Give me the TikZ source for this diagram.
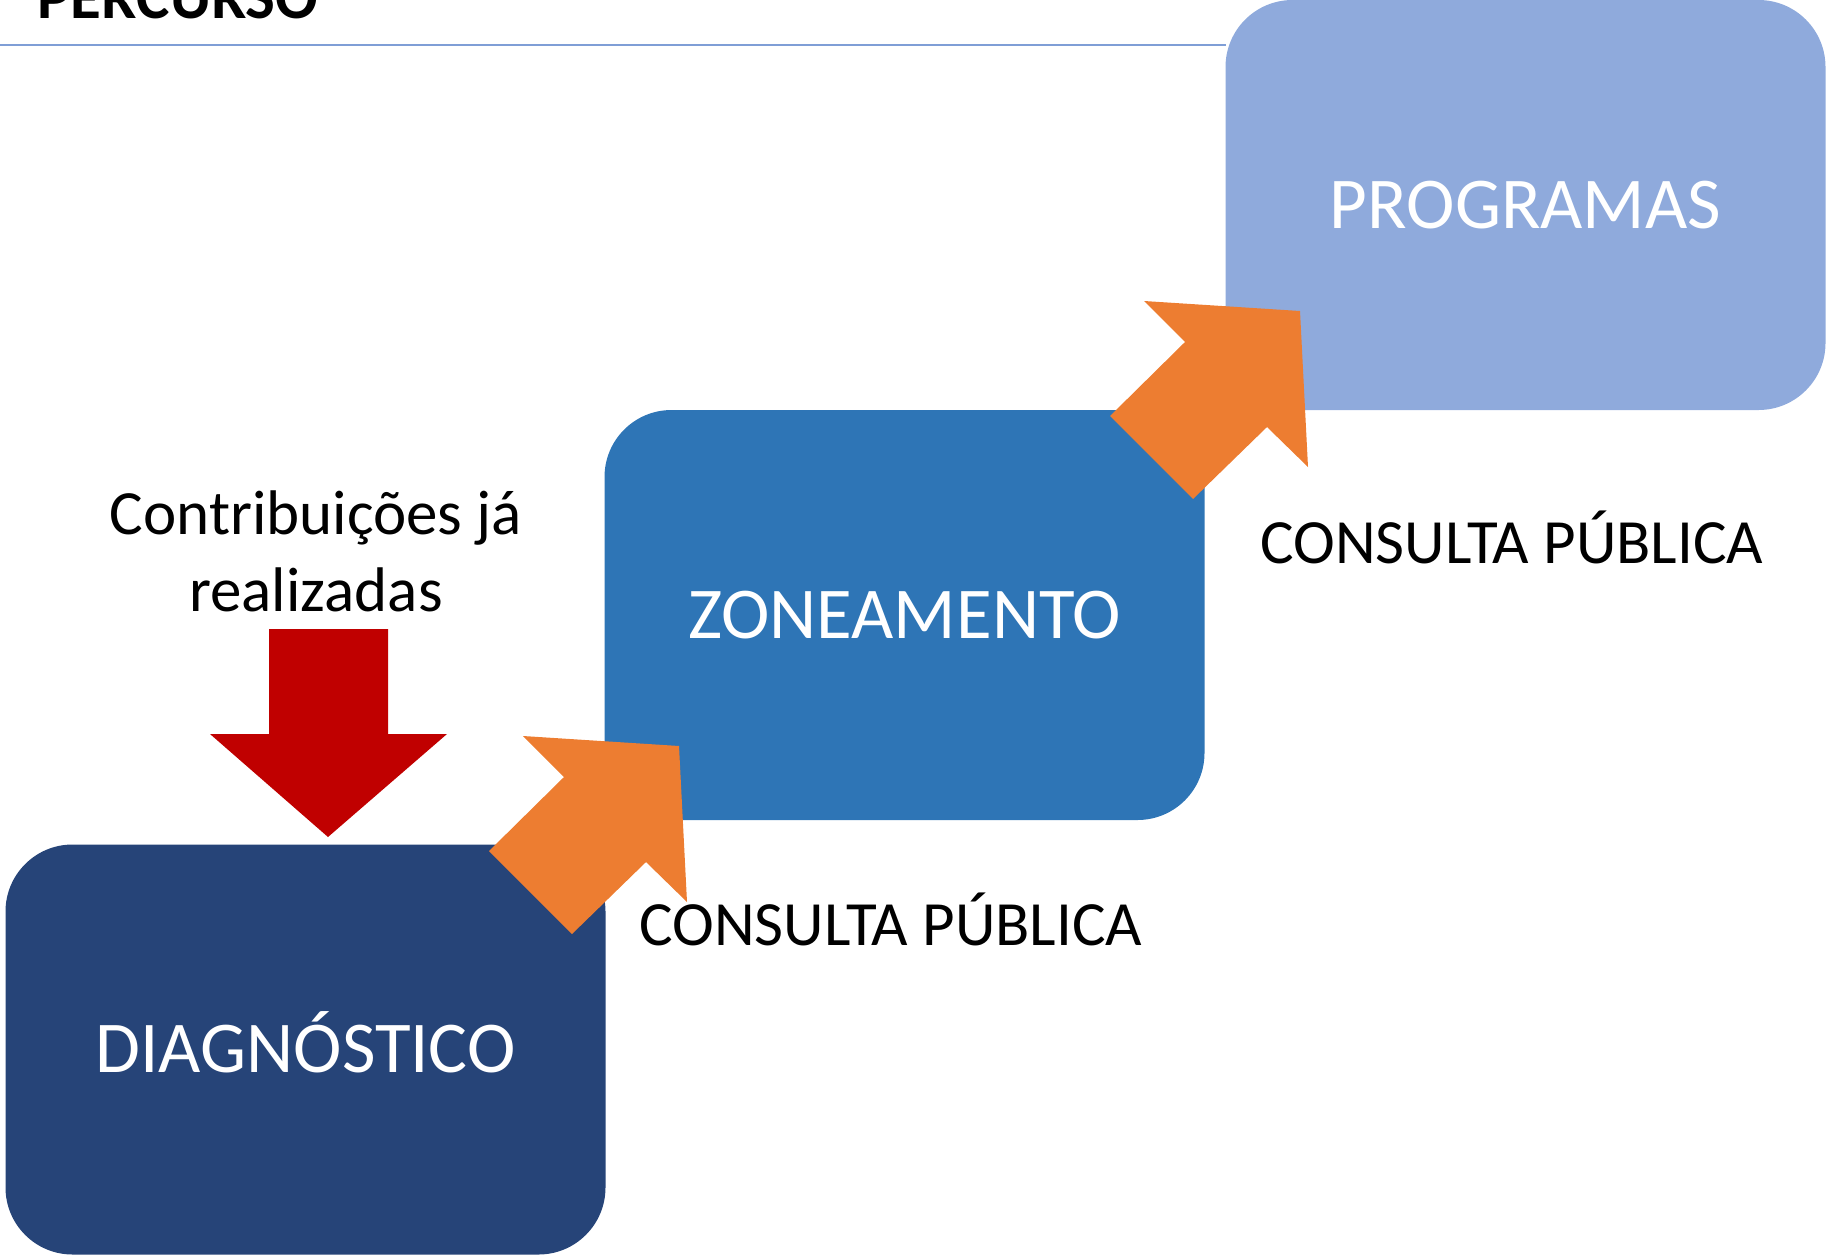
\documentclass[tikz,border=0pt]{standalone}
\usepackage{fontspec}
\setmainfont{Carlito}

\definecolor{progblue}{HTML}{8FAADC}
\definecolor{zoneblue}{HTML}{2E75B6}
\definecolor{diagblue}{HTML}{264478}
\definecolor{arroworange}{HTML}{ED7D31}
\definecolor{arrowred}{HTML}{C00000}
\definecolor{rulecolor}{HTML}{7F9ED6}

\begin{document}
\begin{tikzpicture}[x=0.5pt,y=-0.5pt,
    stage/.style={rounded corners=33.5pt,minimum width=300pt,minimum height=205pt,
      inner sep=0pt,text=white,font=\fontsize{36.5}{44}\selectfont,
      text height=23pt,text depth=0pt},
    notetext/.style={inner sep=0pt,font=\fontsize{31.5}{38.5}\selectfont}]

  \useasboundingbox (0,0) rectangle (1826,1254);

  % title and rule
  \node[anchor=base west,inner sep=0pt,font=\fontsize{31.5}{37}\selectfont\bfseries]
    (title) at (37,18) {PERCURSO};
  \draw[rulecolor,line width=1pt] (0,45) -- (1226,45);

  % stages
  \node[stage,fill=diagblue] (diag) at (305.5,1049.5) {DIAGNÓSTICO};
  \node[stage,fill=zoneblue] (zone) at (904.5,615)    {ZONEAMENTO};
  \node[stage,fill=progblue] (prog) at (1525.5,205)   {PROGRAMAS};

  % texts
  \node[notetext,anchor=base,align=center] (contrib) at (316,611)
    {Contribuições já\\realizadas};
  \node[notetext,anchor=base west] (consulta1) at (639,945)  {CONSULTA PÚBLICA};
  \node[notetext,anchor=base west] (consulta2) at (1260,563) {CONSULTA PÚBLICA};

  % arrows
  \fill[arrowred] (269,629) -- (388,629) -- (388,734) -- (447,734)
    -- (328,837) -- (210,734) -- (269,734) -- cycle;
  \foreach \dx/\dy in {0/0,621/-435}
    \fill[arroworange,shift={(\dx,\dy)}] (489,851) -- (564,777) -- (523,736)
      -- (679,746) -- (687,902) -- (646,862) -- (572,934) -- cycle;

\end{tikzpicture}
\end{document}
